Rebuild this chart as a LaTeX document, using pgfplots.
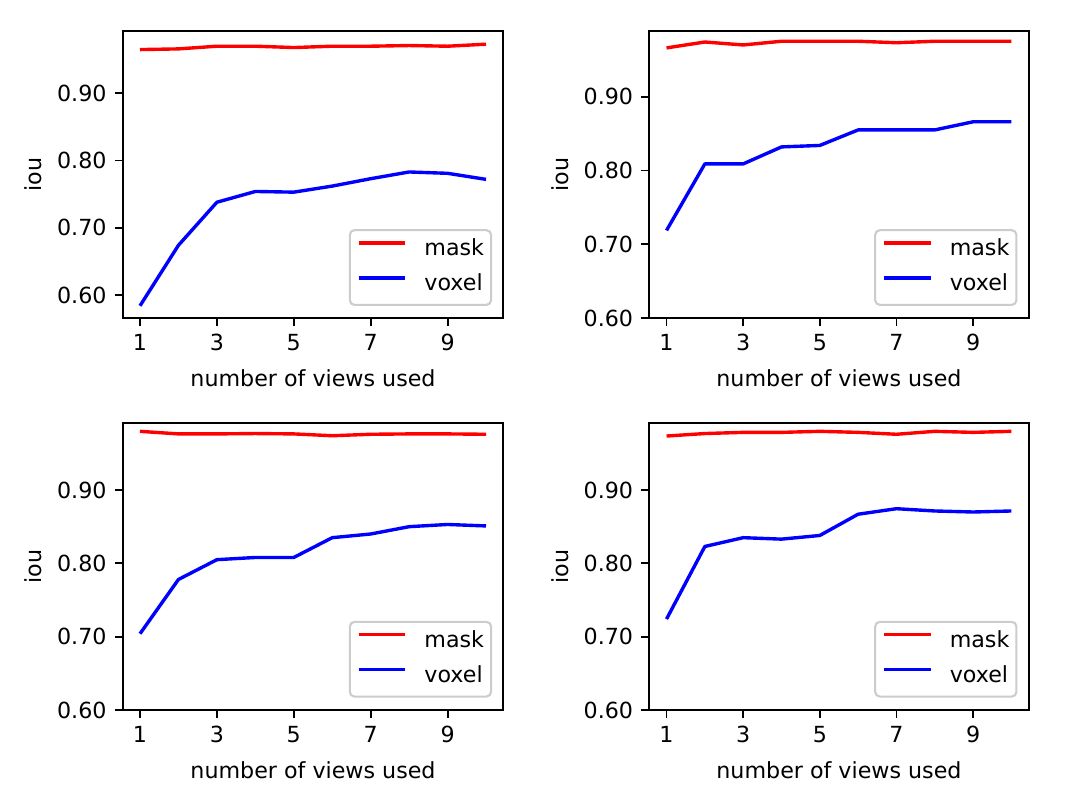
\documentclass[border=0pt]{standalone}
\usepackage{fontspec}
\setmainfont{DejaVu Sans}
\usepackage{pgfplots}
\pgfplotsset{compat=1.18}

\pgfplotsset{
  sub/.style={
    scale only axis, width=163pt, height=123.04pt, anchor=south west,
    xmin=0.55, xmax=10.45,
    xtick={1,3,5,7,9},
    ytick={0.6,0.7,0.8,0.9},
    yticklabel style={/pgf/number format/fixed, /pgf/number format/fixed zerofill, /pgf/number format/precision=2},
    /pgf/number format/assume math mode=true,
    tick align=outside, tick pos=left,
    major tick length=3.4pt,
    every tick/.style={black, line width=0.8pt},
    axis line style={line width=0.8pt},
    tick label style={font=\fontsize{9.5}{11}\selectfont},
    label style={font=\fontsize{9.5}{11}\selectfont},
    xlabel={number of views used}, ylabel={iou},
    xlabel style={at={(axis description cs:0.5,-0.2081)}, anchor=center},
    ylabel style={at={(axis description cs:-0.2344,0.5)}, anchor=center},
    legend image code/.code={\draw[##1, line width=1.45pt] (0pt,0.3em) -- (20pt,0.3em);},
    legend style={at={(1,0)}, anchor=south east, xshift=-4.8pt, yshift=5.3pt,
      draw=black!20, line width=0.9pt, rounded corners=2pt, fill=white,
      font=\fontsize{9.5}{11}\selectfont,
      inner xsep=3pt, inner ysep=4pt, row sep=6pt,
      nodes={inner sep=0pt, text height=7pt, text depth=2pt},
      /tikz/every odd column/.append style={column sep=7.5pt}},
    legend cell align=left,
  },
  mask/.style={red, line width=1.45pt, line join=round},
  voxel/.style={blue, line width=1.45pt, line join=round},
}

\begin{document}
\begin{tikzpicture}
\useasboundingbox (0,0) rectangle (460.8pt,345.6pt);

\begin{axis}[sub, at={(52.55pt,209.28pt)}, ymin=0.5654, ymax=0.9926]
\addplot[mask] coordinates {(1,0.965)(2,0.966)(3,0.970)(4,0.970)(5,0.968)(6,0.970)(7,0.970)(8,0.971)(9,0.970)(10,0.973)};
\addplot[voxel] coordinates {(1,0.584)(2,0.674)(3,0.738)(4,0.754)(5,0.753)(6,0.762)(7,0.773)(8,0.783)(9,0.781)(10,0.772)};
\legend{mask,voxel}
\end{axis}

\begin{axis}[sub, at={(278.06pt,209.28pt)}, width=162.48pt, ymin=0.60, ymax=0.9889]
\addplot[mask] coordinates {(1,0.966)(2,0.974)(3,0.970)(4,0.975)(5,0.975)(6,0.975)(7,0.973)(8,0.975)(9,0.975)(10,0.975)};
\addplot[voxel] coordinates {(1,0.719)(2,0.809)(3,0.809)(4,0.832)(5,0.834)(6,0.855)(7,0.855)(8,0.855)(9,0.866)(10,0.866)};
\legend{mask,voxel}
\end{axis}

\begin{axis}[sub, at={(52.55pt,41.54pt)}, ymin=0.60, ymax=0.9918]
\addplot[mask] coordinates {(1,0.980)(2,0.9765)(3,0.9765)(4,0.977)(5,0.9765)(6,0.974)(7,0.976)(8,0.9765)(9,0.9765)(10,0.976)};
\addplot[voxel] coordinates {(1,0.704)(2,0.778)(3,0.805)(4,0.808)(5,0.808)(6,0.835)(7,0.840)(8,0.850)(9,0.853)(10,0.851)};
\legend{mask,voxel}
\end{axis}

\begin{axis}[sub, at={(278.06pt,41.54pt)}, width=162.48pt, ymin=0.60, ymax=0.9918]
\addplot[mask] coordinates {(1,0.9736)(2,0.977)(3,0.9786)(4,0.9786)(5,0.980)(6,0.9786)(7,0.976)(8,0.980)(9,0.9786)(10,0.980)};
\addplot[voxel] coordinates {(1,0.724)(2,0.823)(3,0.835)(4,0.833)(5,0.838)(6,0.867)(7,0.8745)(8,0.8714)(9,0.870)(10,0.8714)};
\legend{mask,voxel}
\end{axis}
\end{tikzpicture}
\end{document}
